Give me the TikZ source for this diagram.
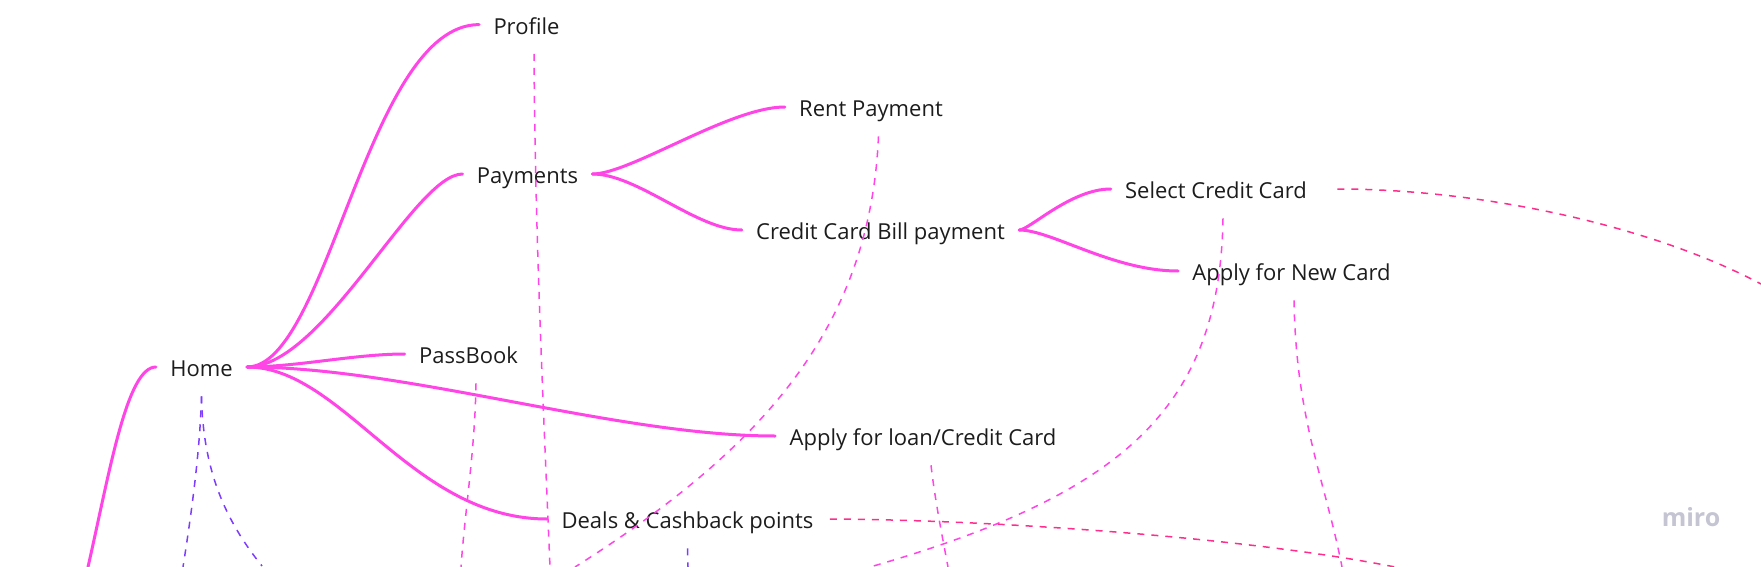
\documentclass[tikz,border=0pt]{standalone}
\usepackage{fontspec}
\setmainfont{Open Sans}
\usepackage{tikz}
\definecolor{mapink}{HTML}{FF45E5}
\definecolor{mapred}{HTML}{FF2D8C}
\definecolor{mapviolet}{HTML}{7D3CFF}
\definecolor{mirogray}{HTML}{C4C4D2}
\definecolor{inktext}{HTML}{1C1C1C}

\begin{document}
\begin{tikzpicture}[x=0.5pt,y=-0.5pt,
  topic/.style={text=inktext,font=\fontsize{11}{13}\selectfont,text height=10pt,text depth=0.5pt,inner xsep=7pt,inner ysep=9.2pt},
  branch/.style={mapink,line width=1.5pt,line cap=round},
  link/.style={mapink,line width=0.75pt,dash pattern=on 3.5pt off 3.5pt},
  redlink/.style={link,mapred},
  violetlink/.style={link,mapviolet}]
\useasboundingbox (0,0) rectangle (1761,567) ;
\clip (0,0) rectangle (1761,567) ;
\node[topic] (home) at (201.5,367) {Home} ;
\node[topic] (profile) at (526.5,24.6) {Profile} ;
\node[topic] (payments) at (527.5,174) {Payments} ;
\node[topic] (rent) at (871,107) {Rent Payment} ;
\node[topic] (ccbill) at (880.5,230) {Credit Card Bill payment} ;
\node[topic] (select) at (1216,189) {Select Credit Card} ;
\node[topic] (newcard) at (1291.5,271) {Apply for New Card} ;
\node[topic] (passbook) at (468.5,354) {PassBook} ;
\node[topic] (loan) at (923,436) {Apply for loan/Credit Card} ;
\node[topic] (deals) at (687.5,519) {Deals \& Cashback points} ;
\node[anchor=base,text=mirogray,font=\bfseries\fontsize{12.5}{14}\selectfont] (miro) at (1691,526) {miro} ;
\coordinate (homein) at (88,567) ;
\coordinate (profileout) at (550,567) ;
\coordinate (passbookout) at (461,567) ;
\coordinate (rentout) at (575,567) ;
\coordinate (selectout) at (870,567) ;
\coordinate (selectright) at (1761,284) ;
\coordinate (newcardout) at (1342,567) ;
\coordinate (loanout) at (948,567) ;
\coordinate (dealsright) at (1395,567) ;
\coordinate (dealsout) at (688,567) ;
\coordinate (homeleft) at (183,567) ;
\coordinate (homeright) at (262,566) ;
\draw[branch] (homein) .. controls (110,470) and (127,367) .. (home.west) ;
\draw[branch] (home.east) .. controls +(81,0) and +(-112,0) .. (profile.west) ;
\draw[branch] (home.east) .. controls +(77,0) and +(-48,0) .. (payments.west) ;
\draw[branch] (home.east) .. controls +(50,0) and +(-50,0) .. (passbook.west) ;
\draw[branch] (home.east) .. controls +(160,0) and +(-160,0) .. (loan.west) ;
\draw[branch] (home.east) .. controls +(96,0) and +(-136,0) .. (deals.west) ;
\draw[branch] (payments.east) .. controls +(38,0) and +(-55,0) .. (rent.west) ;
\draw[branch] (payments.east) .. controls +(45,0) and +(-45,0) .. (ccbill.west) ;
\draw[branch] (ccbill.east) .. controls +(10,0) and +(-40,0) .. (select.west) ;
\draw[branch] (ccbill.east) .. controls +(32,0) and +(-65,0) .. (newcard.west) ;
\draw[link] ([xshift=3.75pt]profile.south) .. controls (535,230) and (543,400) .. (profileout) ;
\draw[link] ([xshift=3.75pt]passbook.south) .. controls (475,450) and (465,510) .. (passbookout) ;
\draw[link] ([xshift=3.75pt]rent.south) .. controls (870,330) and (760,450) .. (rentout) ;
\draw[link] ([xshift=3.5pt]select.south) .. controls (1220,410) and (1120,495) .. (selectout) ;
\draw[link] ([xshift=1.25pt]newcard.south) .. controls (1296,420) and (1325,480) .. (newcardout) ;
\draw[link] ([xshift=4pt]loan.south) .. controls (935,500) and (942,535) .. (loanout) ;
\draw[redlink] ([xshift=8pt]select.east) .. controls (1480,189) and (1650,225) .. (selectright) ;
\draw[redlink] ([xshift=1pt]deals.east) .. controls (1000,520) and (1250,538) .. (dealsright) ;
\draw[violetlink] (deals.south) -- (dealsout) ;
\draw[violetlink] (home.south) .. controls (200,450) and (192,510) .. (homeleft) ;
\draw[violetlink] (home.south) .. controls (203,470) and (225,520) .. (homeright) ;
\end{tikzpicture}
\end{document}
